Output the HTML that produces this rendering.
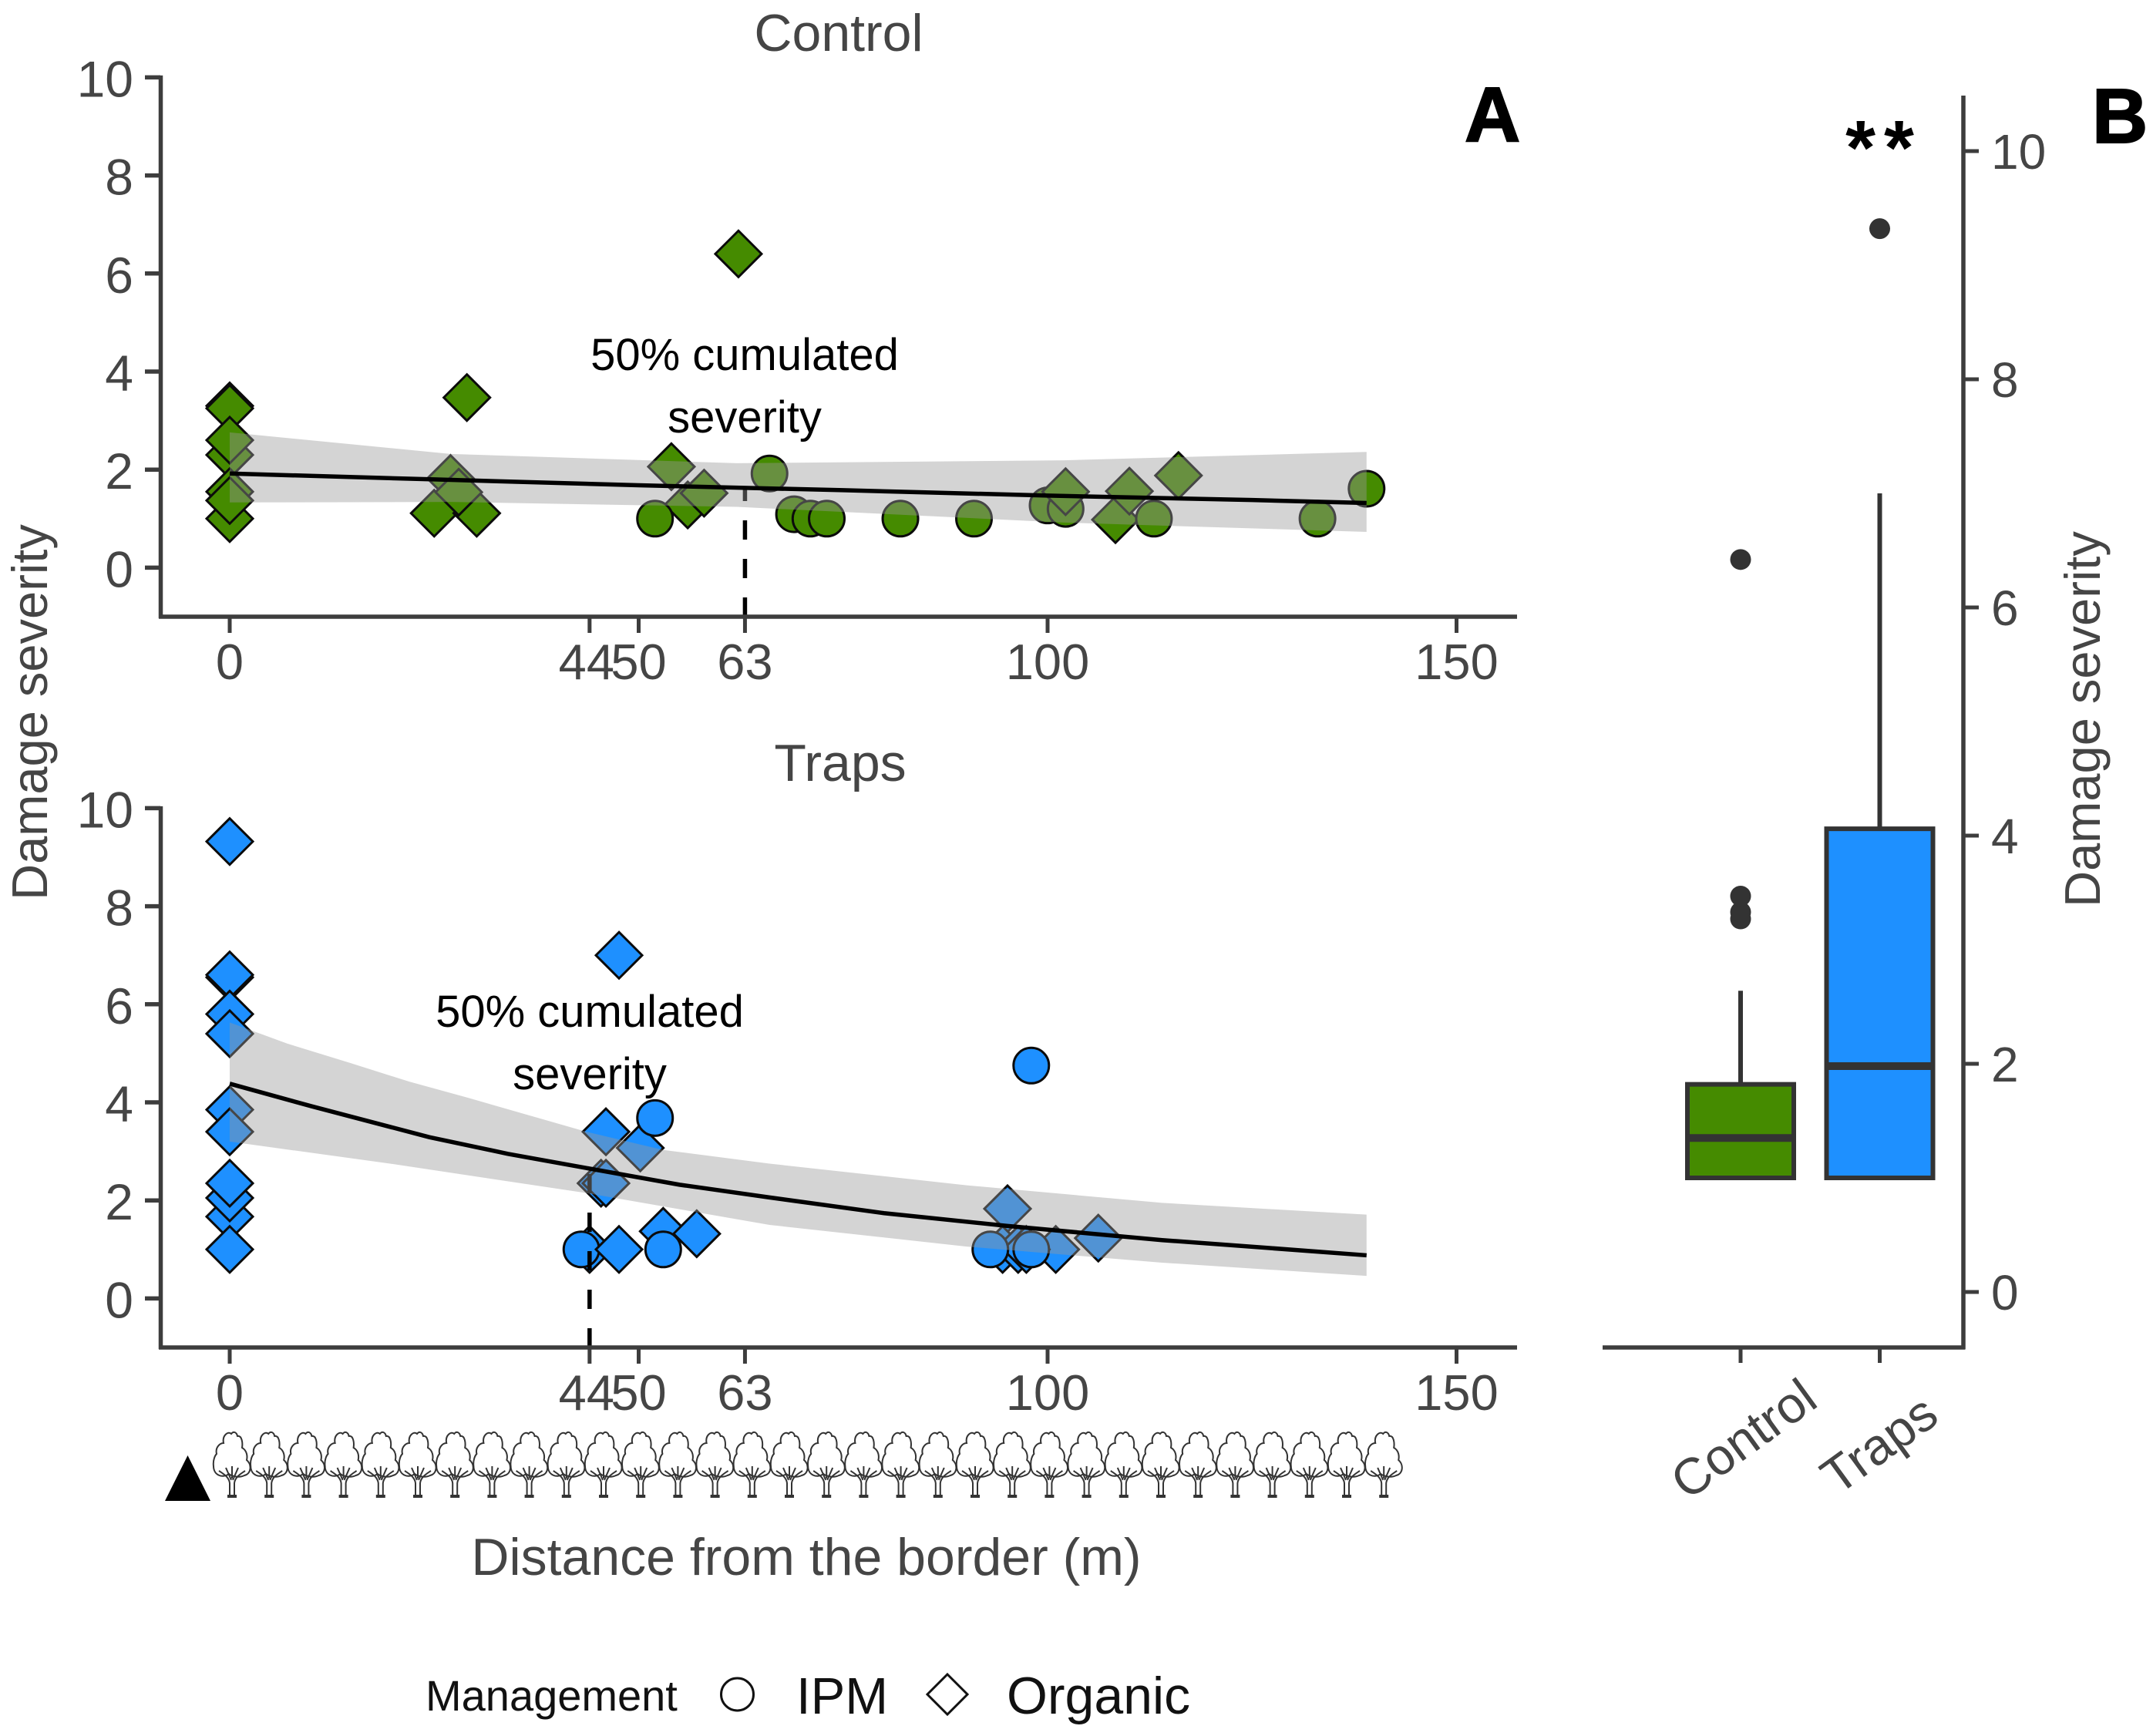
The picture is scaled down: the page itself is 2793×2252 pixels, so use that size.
<!DOCTYPE html>
<html lang="en">
<head>
<meta charset="utf-8">
<title>Damage severity by distance from the border</title>
<style>
html,body{margin:0;padding:0;background:#fff;}
svg{display:block;}
text{font-family:"Liberation Sans",Arial,sans-serif;}
</style>
</head>
<body>
<svg id="chart" xmlns="http://www.w3.org/2000/svg" width="2793" height="2252" viewBox="0 0 2793 2252">
  <rect x="0" y="0" width="2793" height="2252" fill="#ffffff"/>
  <g id="panel-control"></g>
  <g id="panel-traps"></g>
  <g id="panel-box"></g>
  <g id="tree-row"></g>

  <polygon points="214,1947 243.5,1888 273,1947" fill="#000"/>

  <text x="1046" y="2043" font-size="68" fill="#454545" text-anchor="middle">Distance from the border (m)</text>
  <text transform="translate(61,924) rotate(-90)" font-size="65" fill="#454545" text-anchor="middle">Damage severity</text>
  <text transform="translate(2724,933) rotate(-90)" font-size="65" fill="#454545" text-anchor="middle">Damage severity</text>
  <text x="1088" y="66" font-size="68" fill="#454545" text-anchor="middle">Control</text>
  <text x="1090" y="1013" font-size="68" fill="#454545" text-anchor="middle">Traps</text>
  <text x="1900" y="183" font-size="100" font-weight="bold" fill="#000" stroke="#000" stroke-width="2">A</text>
  <text x="2714" y="185" font-size="100" font-weight="bold" fill="#000" stroke="#000" stroke-width="2">B</text>
  <text x="2444" y="226" font-size="100" font-weight="bold" letter-spacing="11" fill="#000" text-anchor="middle">**</text>

  <g>
    <text x="552" y="2219" font-size="56" fill="#111">Management</text>
    <circle cx="956.5" cy="2198" r="21" fill="#fff" stroke="#111" stroke-width="3"/>
    <text x="1033" y="2223" font-size="67" fill="#111">IPM</text>
    <polygon points="1229,2172 1255,2198 1229,2224 1203,2198" fill="#fff" stroke="#111" stroke-width="3"/>
    <text x="1306" y="2223" font-size="68" fill="#111">Organic</text>
  </g>
</svg>

<script>
// ---------- shared axis ticks ----------
const yTicks = [0, 2, 4, 6, 8, 10];
const xTicks = [0, 50, 100, 150];
const boxYTicks = [0, 2, 4, 6, 8, 10];

// ---------- Control panel data ----------
const controlDistance = [0,0,0,0,0,0,0, 25,30.2,27,28,29, 54,56,58, 52,66,69,71,73,82,91, 100,102.2,102.2,108.3,110,113,116,133,139, 62.2];
const controlSeverity = [3.3,3.25,2.3,2.6,1.55,1.0,1.37, 1.11,1.11,1.82,1.54,3.47, 2.06,1.28,1.52, 1.0,1.92,1.09,1.0,1.0,1.0,1.0, 1.27,1.2,1.55,0.98,1.56,1.0,1.88,1.0,1.61, 6.4];
const controlShape = ['d','d','d','d','d','d','d', 'd','d','d','d','d', 'd','d','d', 'o','o','o','o','o','o','o', 'o','o','d','d','d','o','d','o','o', 'd'];
const controlFitX = [0,25,50,75,100,125,139];
const controlFit = [1.92,1.80,1.68,1.58,1.47,1.38,1.32];
const controlBandX = [0,27,62,102,139];
const controlBandUpper = [2.76,2.32,2.13,2.19,2.36];
const controlBandLower = [1.33,1.34,1.24,0.92,0.73];
const controlMarkerX = [63];
const controlMarkerTop = [1.62];

// ---------- Traps panel data ----------
const trapsDistance = [0,0,0,0,0,0,0,0,0,0,0, 45.4,47.6,46,50.2,52,46, 44,43,47.6,53,57.1,53, 98,95.1,106.2,101,94.5,96.4,97.4,93,98];
const trapsSeverity = [9.32,6.55,6.6,5.8,5.4,3.85,3.4,1.67,2.05,2.35,1.0, 2.35,7.0,3.4,3.07,3.68,2.35, 1.0,1.0,1.0,1.37,1.32,1.0, 4.75,1.83,1.23,1.0,1.0,1.0,1.0,1.0,1.0];
const trapsShape = ['d','d','d','d','d','d','d','d','d','d','d', 'd','d','d','d','o','d', 'd','o','d','d','d','o', 'o','d','d','d','d','d','d','o','o'];
const trapsFitX = [0,10,24.4,34,43.6,55,66,80,95,114,127,139];
const trapsFit = [4.38,3.92,3.29,2.95,2.66,2.32,2.06,1.74,1.48,1.19,1.03,0.88];
const trapsUpperX = [0,7,14.8,22,29.2,43.6,53,66,90,114,139];
const trapsUpper = [5.63,5.2,4.8,4.42,4.09,3.4,3.03,2.75,2.31,1.95,1.71];
const trapsLowerX = [0,19.6,43.6,66,90,114,139];
const trapsLower = [3.2,2.75,2.15,1.5,1.06,0.73,0.46];
const trapsMarkerX = [44];
const trapsMarkerTop = [2.66];

// ---------- Boxplot data ----------
const boxCategories = ['Control', 'Traps'];
const boxQ1 = [1.0, 1.0];
const boxMedian = [1.35, 1.98];
const boxQ3 = [1.82, 4.06];
const boxWhiskerHigh = [2.64, 7.0];
const boxOutliers = [[3.27, 3.33, 3.47, 6.42], [9.32]];
const boxColors = ['#458b00', '#1e90ff'];

// ---------- tree row ----------
const treeCount = 32;

const NS = 'http://www.w3.org/2000/svg';
const AXIS = '#3d3d3d';
function mk(parent, tag, attrs, txt) {
  const e = document.createElementNS(NS, tag);
  for (const k in attrs) e.setAttribute(k, attrs[k]);
  if (txt !== undefined) e.textContent = txt;
  parent.appendChild(e);
  return e;
}
const xScale = v => 298 + 10.61 * v;

function drawPanel(cfg) {
  const g = document.getElementById(cfg.id);
  const base = cfg.axisY;
  const yScale = v => base - 63.6 * (v + 1);

  // points
  const pts = mk(g, 'g', {});
  
  
  cfg.dist.forEach((d, i) => {
    const cx = xScale(d), cy = yScale(cfg.sev[i]);
    let m;
    if (cfg.shape[i] === 'o') {
      m = mk(pts, 'circle', {cx: cx, cy: cy, r: 23, fill: cfg.color, stroke: '#0b0b0b', 'stroke-width': 3});
      
      
    } else {
      const h = 30;
      m = mk(pts, 'polygon', {points: [cx, cy - h, cx + h, cy, cx, cy + h, cx - h, cy].join(' '), fill: cfg.color, stroke: '#0b0b0b', 'stroke-width': 3});
      
      
    }
  });

  // 50% dashed marker
  const mx = xScale(cfg.markerX[0]);
  const dash = mk(g, 'line', {x1: mx, x2: mx, y1: base, y2: yScale(cfg.markerTop[0]), stroke: '#000', 'stroke-width': 5.5, 'stroke-dasharray': '25 25'});
  
  

  // confidence ribbon
  const up = cfg.upperX.map((x, i) => xScale(x) + ',' + yScale(cfg.upper[i]));
  const lo = cfg.lowerX.map((x, i) => xScale(x) + ',' + yScale(cfg.lower[i])).reverse();
  const band = mk(g, 'polygon', {points: up.concat(lo).join(' '), fill: '#999999', 'fill-opacity': 0.42});
  
  

  // fit
  const fit = mk(g, 'polyline', {points: cfg.fitX.map((x, i) => xScale(x) + ',' + yScale(cfg.fit[i])).join(' '), fill: 'none', stroke: '#000', 'stroke-width': 5.5});
  
  

  // axes
  const axY = mk(g, 'line', {x1: 208.5, x2: 208.5, y1: yScale(10) - 2.5, y2: base + 2, stroke: AXIS, 'stroke-width': 5.5});
  
  
  const axX = mk(g, 'line', {x1: 206, x2: 1968, y1: base, y2: base, stroke: AXIS, 'stroke-width': 5.5});
  
  

  yTicks.forEach(t => {
    const y = yScale(t);
    const tk = mk(g, 'line', {x1: 188, x2: 208, y1: y, y2: y, stroke: AXIS, 'stroke-width': 5.5});
    
    
    const lb = mk(g, 'text', {x: 173, y: y + 25, 'font-size': 66, 'text-anchor': 'end', fill: '#454545'}, String(t));
    
    
  });

  const ticks = xTicks.concat(cfg.markerX).concat(cfg.extraTicks).sort((a, b) => a - b);
  ticks.forEach(t => {
    const x = xScale(t);
    const tk = mk(g, 'line', {x1: x, x2: x, y1: base, y2: base + 21, stroke: AXIS, 'stroke-width': 5});
    
    
    const lb = mk(g, 'text', {x: x - (t === 44 ? 4 : 0), y: base + 81, 'font-size': 65, 'text-anchor': 'middle', fill: '#454545'}, String(t));
    
    
  });

  // annotation
  const a1 = mk(g, 'text', {x: cfg.noteX, y: cfg.noteY, 'font-size': 58, 'text-anchor': 'middle', fill: '#000'}, '50% cumulated');
  
  
  const a2 = mk(g, 'text', {x: cfg.noteX, y: cfg.noteY + 81, 'font-size': 58, 'text-anchor': 'middle', fill: '#000'}, 'severity');
  
  
}

drawPanel({
  id: 'panel-control', name: 'control', axisY: 800, color: '#458b00',
  dist: controlDistance, sev: controlSeverity, shape: controlShape,
  fitX: controlFitX, fit: controlFit,
  upperX: controlBandX, upper: controlBandUpper,
  lowerX: controlBandX, lower: controlBandLower,
  markerX: controlMarkerX, markerTop: controlMarkerTop,
  extraTicks: [44], noteX: 966, noteY: 480
});
drawPanel({
  id: 'panel-traps', name: 'traps', axisY: 1748, color: '#1e90ff',
  dist: trapsDistance, sev: trapsSeverity, shape: trapsShape,
  fitX: trapsFitX, fit: trapsFit,
  upperX: trapsUpperX, upper: trapsUpper,
  lowerX: trapsLowerX, lower: trapsLower,
  markerX: trapsMarkerX, markerTop: trapsMarkerTop,
  extraTicks: [63], noteX: 765, noteY: 1332
});

// ---------- Boxplot ----------
(function () {
  const g = document.getElementById('panel-box');
  const yB = v => 1676 - 148 * v;
  const xB = i => 2258 + 180.5 * i;
  const halfW = 69;

  boxCategories.forEach((c, i) => {
    const cx = xB(i);
    const wh = mk(g, 'line', {x1: cx, x2: cx, y1: yB(boxQ3[i]), y2: yB(boxWhiskerHigh[i]), stroke: '#333', 'stroke-width': 6});
    
    
    const r = mk(g, 'rect', {x: cx - halfW, y: yB(boxQ3[i]), width: halfW * 2, height: yB(boxQ1[i]) - yB(boxQ3[i]), fill: boxColors[i], stroke: '#333', 'stroke-width': 6});
    
    
    const md = mk(g, 'line', {x1: cx - halfW, x2: cx + halfW, y1: yB(boxMedian[i]), y2: yB(boxMedian[i]), stroke: '#333', 'stroke-width': 10});
    
    
    boxOutliers[i].forEach(o => {
      const p = mk(g, 'circle', {cx: cx, cy: yB(o), r: 13.5, fill: '#333'});
      
      
    });
    const tk = mk(g, 'line', {x1: cx, x2: cx, y1: 1748, y2: 1768, stroke: AXIS, 'stroke-width': 5});
    
    
    const lx = i === 0 ? 2275 : 2451, ly = i === 0 ? 1885 : 1892;
    const lb = mk(g, 'text', {transform: 'translate(' + lx + ',' + ly + ') rotate(-36)', 'font-size': 66, 'text-anchor': 'middle', fill: '#454545'}, c);
    
    
  });

  const axR = mk(g, 'line', {x1: 2547, x2: 2547, y1: 124, y2: 1750.5, stroke: AXIS, 'stroke-width': 5.5});
  
  
  const axB = mk(g, 'line', {x1: 2079, x2: 2549, y1: 1748, y2: 1748, stroke: AXIS, 'stroke-width': 5.5});
  
  

  boxYTicks.forEach(t => {
    const y = yB(t);
    const tk = mk(g, 'line', {x1: 2547, x2: 2567, y1: y, y2: y, stroke: AXIS, 'stroke-width': 5});
    
    
    const lb = mk(g, 'text', {x: 2583, y: y + 23, 'font-size': 64, fill: '#454545'}, String(t));
    
    
  });
})();

// ---------- Trees ----------
(function () {
  const g = document.getElementById('tree-row');
  const canopy = 'M-11,14 C-13,4 -5,-2 -1,2 C2,-2 6,0 7,5 C13,4 14,14 13,20 C20,24 20,32 19,36 C26,42 25,54 16,56 C8,60 -2,56 -4,54 C-12,60 -24,56 -24,44 C-25,36 -22,30 -20,28 C-22,20 -16,14 -11,14 Z';
  const trunk = 'M-3,81 L-3,66 C-4,58 -11,54 -17,50 M3,81 L3,66 C4,58 11,54 17,50 M-1,62 L-8,46 M1,62 L8,46 M0,60 L0,44';
  for (let i = 0; i < treeCount; i++) {
    const t = mk(g, 'g', {transform: 'translate(' + (301 + 48.2 * i) + ',1858)', fill: 'none', stroke: '#333', 'stroke-width': 2});
    
    
    mk(t, 'path', {d: canopy, fill: '#fff'});
    mk(t, 'path', {d: trunk});
    mk(t, 'line', {x1: -6, x2: 6, y1: 83, y2: 83, 'stroke-width': 4});
  }
})();
</script>
</body>
</html>
